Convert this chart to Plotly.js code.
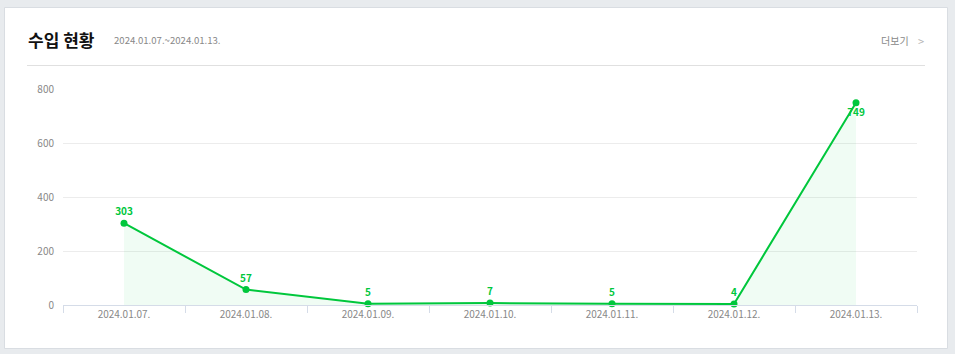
<!DOCTYPE html>
<html>
<head>
<meta charset="utf-8">
<script src="https://cdn.plot.ly/plotly-3.0.1.min.js"></script>
<style>
html,body{margin:0;padding:0;background:#e8ebee;}
#chart{width:955px;height:354px;}
</style>
</head>
<body>
<div id="chart"></div>
<script>
const categories = ["2024.01.07.","2024.01.08.","2024.01.09.","2024.01.10.","2024.01.11.","2024.01.12.","2024.01.13."];
const values = [303, 57, 5, 7, 5, 4, 749];
const labelPositions = ["top center","top center","top center","top center","top center","top center","bottom center"];
const yTicks = [0, 200, 400, 600, 800];
const titleText = "수입 현황";
const periodText = "2024.01.07.~2024.01.13.";
const moreText = "더보기";

const W = 955, H = 354, L = 63, R = 38, T = 89, B = 49;
const PW = W - L - R, PH = H - T - B;
const px = x => (x - L) / PW;
const py = y => (H - B - y) / PH;

const green = "#00c73c";
const font = "'Noto Sans CJK KR', 'Noto Sans', sans-serif";

const trace = {
  type: "scatter",
  mode: "lines+markers+text",
  x: categories,
  y: values,
  text: values.map(String),
  textposition: labelPositions,
  textfont: {color: green, size: 10, family: font, weight: 700},
  line: {color: green, width: 2},
  marker: {color: green, size: 7},
  fill: "tozeroy",
  fillcolor: "rgba(0,199,60,0.06)",
  hoverinfo: "x+y",
  cliponaxis: false
};

const layout = {
  width: W, height: H,
  margin: {l: L, r: R, t: T, b: B},
  paper_bgcolor: "#e8ebee",
  plot_bgcolor: "rgba(0,0,0,0)",
  showlegend: false,
  font: {family: font, color: "#888", size: 10},
  xaxis: {
    type: "category",
    range: [-0.5, 6.5],
    tickson: "boundaries",
    ticks: "outside",
    ticklen: 7,
    tickcolor: "#d5dce8",
    tickwidth: 1,
    showline: true,
    linecolor: "#d5dce8",
    linewidth: 1,
    showgrid: false,
    zeroline: false,
    tickfont: {size: 10, color: "#888", family: font},
    fixedrange: true
  },
  yaxis: {
    range: [0, 800],
    tickvals: yTicks,
    ticktext: yTicks.map(String),
    showgrid: true,
    gridcolor: "#ececec",
    gridwidth: 1,
    zeroline: false,
    showline: false,
    ticks: "",
    ticklabelstandoff: 8,
    tickfont: {size: 10, color: "#888", family: font},
    fixedrange: true
  },
  shapes: [
    {type: "rect", xref: "paper", yref: "paper", x0: px(4.5), x1: px(947.5), y0: py(7.5), y1: py(348.5),
     fillcolor: "#ffffff", line: {color: "#d9dde2", width: 1}, layer: "below"},
    {type: "line", xref: "paper", yref: "paper", x0: px(27), x1: px(925), y0: py(65.5), y1: py(65.5),
     line: {color: "#e0e0e0", width: 1}}
  ],
  annotations: [
    {xref: "paper", yref: "paper", x: px(26), y: py(39), xanchor: "left", yanchor: "middle",
     text: titleText, showarrow: false, font: {size: 17, color: "#111", family: font, weight: 700}},
    {xref: "paper", yref: "paper", x: px(112), y: py(40), xanchor: "left", yanchor: "middle",
     text: periodText, showarrow: false, font: {size: 9.6, color: "#888", family: font}},
    {xref: "paper", yref: "paper", x: px(911), y: py(41), xanchor: "right", yanchor: "middle",
     text: moreText, showarrow: false, font: {size: 10, color: "#888", family: font}},
    {xref: "paper", yref: "paper", x: px(926), y: py(41), xanchor: "right", yanchor: "middle",
     text: ">", showarrow: false, font: {size: 11, color: "#b5b5b5", family: font}}
  ]
};

Plotly.newPlot("chart", [trace], layout, {displayModeBar: false, staticPlot: false});
</script>
</body>
</html>
